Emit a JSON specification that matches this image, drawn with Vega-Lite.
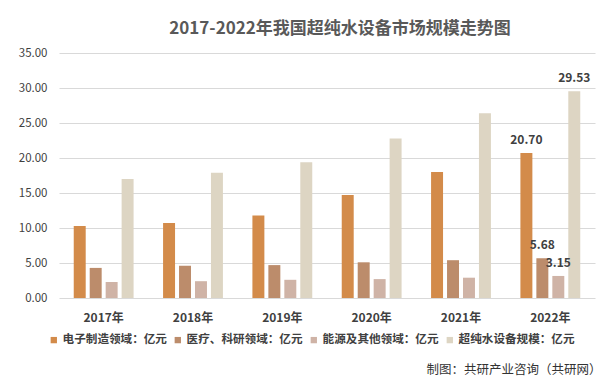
{
  "$schema": "https://vega.github.io/schema/vega-lite/v6.json",
  "width": 536,
  "height": 245,
  "autosize": {"type": "none"},
  "padding": {"left": 59, "top": 53, "right": 18, "bottom": 90},
  "background": "#FFFFFF",
  "title": {
    "text": "2017-2022年我国超纯水设备市场规模走势图",
    "anchor": "middle",
    "dx": 13,
    "offset": 9,
    "font": "Noto Sans CJK SC",
    "fontSize": 17,
    "fontWeight": "bold",
    "color": "#595959"
  },
  "data": {
    "values": [
      {"year": "2017年", "series": "电子制造领域：亿元", "value": 10.3},
      {"year": "2017年", "series": "医疗、科研领域：亿元", "value": 4.3},
      {"year": "2017年", "series": "能源及其他领域：亿元", "value": 2.3},
      {"year": "2017年", "series": "超纯水设备规模：亿元", "value": 17.0},
      {"year": "2018年", "series": "电子制造领域：亿元", "value": 10.7},
      {"year": "2018年", "series": "医疗、科研领域：亿元", "value": 4.6},
      {"year": "2018年", "series": "能源及其他领域：亿元", "value": 2.4},
      {"year": "2018年", "series": "超纯水设备规模：亿元", "value": 17.9},
      {"year": "2019年", "series": "电子制造领域：亿元", "value": 11.8},
      {"year": "2019年", "series": "医疗、科研领域：亿元", "value": 4.7},
      {"year": "2019年", "series": "能源及其他领域：亿元", "value": 2.6},
      {"year": "2019年", "series": "超纯水设备规模：亿元", "value": 19.4},
      {"year": "2020年", "series": "电子制造领域：亿元", "value": 14.7},
      {"year": "2020年", "series": "医疗、科研领域：亿元", "value": 5.1},
      {"year": "2020年", "series": "能源及其他领域：亿元", "value": 2.7},
      {"year": "2020年", "series": "超纯水设备规模：亿元", "value": 22.8},
      {"year": "2021年", "series": "电子制造领域：亿元", "value": 18.0},
      {"year": "2021年", "series": "医疗、科研领域：亿元", "value": 5.4},
      {"year": "2021年", "series": "能源及其他领域：亿元", "value": 2.9},
      {"year": "2021年", "series": "超纯水设备规模：亿元", "value": 26.4},
      {"year": "2022年", "series": "电子制造领域：亿元", "value": 20.70, "label": "20.70"},
      {"year": "2022年", "series": "医疗、科研领域：亿元", "value": 5.68, "label": "5.68"},
      {"year": "2022年", "series": "能源及其他领域：亿元", "value": 3.15, "label": "3.15"},
      {"year": "2022年", "series": "超纯水设备规模：亿元", "value": 29.53, "label": "29.53"}
    ]
  },
  "encoding": {
    "x": {
      "field": "year",
      "type": "nominal",
      "sort": null,
      "scale": {"paddingInner": 0.33, "paddingOuter": 0.165},
      "axis": {
        "title": "制图：共研产业咨询（共研网）",
        "titleAnchor": "end",
        "titleAlign": "right",
        "titleX": 542,
        "titleY": 65,
        "titleFont": "Noto Sans CJK SC",
        "titleFontSize": 12.5,
        "titleFontWeight": "normal",
        "titleColor": "#333333",
        "labelAngle": 0,
        "labelPadding": 14,
        "labelFont": "Noto Sans CJK SC",
        "labelFontSize": 12,
        "labelFontWeight": "bold",
        "labelColor": "#404040",
        "domain": false,
        "ticks": false
      }
    },
    "xOffset": {
      "field": "series",
      "type": "nominal",
      "sort": null,
      "scale": {"paddingInner": 0.25, "paddingOuter": 0}
    },
    "y": {
      "field": "value",
      "type": "quantitative",
      "scale": {"domain": [0, 35], "nice": false},
      "axis": {
        "title": null,
        "values": [0, 5, 10, 15, 20, 25, 30, 35],
        "format": ".2f",
        "labelPadding": 12,
        "labelFont": "Noto Sans CJK SC",
        "labelFontSize": 11.5,
        "labelColor": "#404040",
        "domain": false,
        "ticks": false,
        "gridColor": "#D9D9D9",
        "gridWidth": 1
      }
    },
    "color": {
      "field": "series",
      "type": "nominal",
      "sort": null,
      "scale": {
        "domain": ["电子制造领域：亿元", "医疗、科研领域：亿元", "能源及其他领域：亿元", "超纯水设备规模：亿元"],
        "range": ["#D38B4A", "#BC8C6B", "#CFB3A6", "#DDD5C3"]
      },
      "legend": {
        "title": null,
        "orient": "none",
        "direction": "horizontal",
        "legendX": -11,
        "legendY": 281,
        "symbolType": "square",
        "symbolSize": 40,
        "symbolStrokeWidth": 0,
        "labelFont": "Noto Sans CJK SC",
        "labelFontSize": 11.6,
        "labelFontWeight": "bold",
        "labelColor": "#404040",
        "labelOffset": 3,
        "columnPadding": 5,
        "labelLimit": 200
      }
    }
  },
  "layer": [
    {"mark": {"type": "bar"}},
    {
      "transform": [{"filter": "datum.label != null"}],
      "mark": {
        "type": "text",
        "dy": -6,
        "baseline": "bottom",
        "font": "Noto Sans CJK SC",
        "fontSize": 12,
        "fontWeight": "bold",
        "color": "#404040"
      },
      "encoding": {
        "text": {"field": "label"},
        "color": {"value": "#404040"}
      }
    }
  ],
  "config": {
    "view": {"stroke": null}
  }
}
